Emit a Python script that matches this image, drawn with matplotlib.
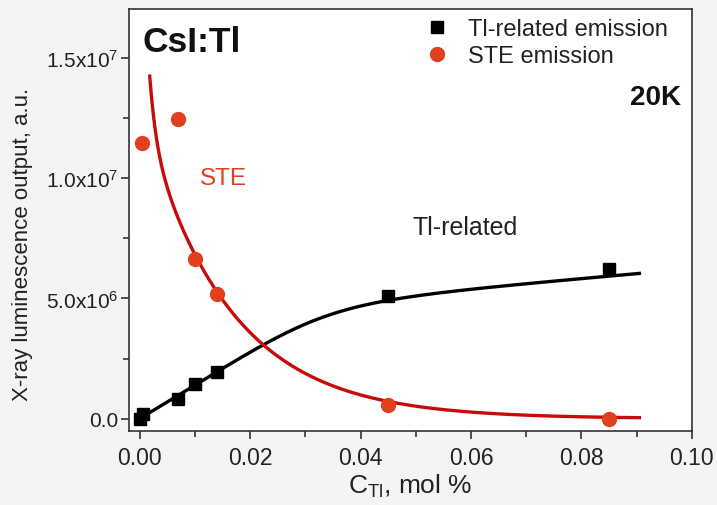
# CsI:Tl X-ray luminescence vs Tl concentration at 20K
import numpy as np
import matplotlib.pyplot as plt
from matplotlib.ticker import MultipleLocator, FixedLocator, FixedFormatter

plt.rcParams['font.family'] = ['Liberation Sans', 'DejaVu Sans']
plt.rcParams['mathtext.fontset'] = 'custom'
plt.rcParams['mathtext.rm'] = 'Liberation Sans'
plt.rcParams['mathtext.it'] = 'Liberation Sans:italic'
plt.rcParams['mathtext.bf'] = 'Liberation Sans:bold'

# measured points (C_Tl in mol %, output in a.u.)
tl_x = [0.0, 0.0005, 0.007, 0.010, 0.014, 0.045, 0.085]
tl_y = [0.0, 0.18e6, 0.82e6, 1.46e6, 1.92e6, 5.10e6, 6.22e6]
ste_x = [0.0004, 0.007, 0.010, 0.014, 0.045, 0.085]
ste_y = [11.45e6, 12.47e6, 6.63e6, 5.17e6, 0.55e6, 0.0]

# fit parameters
tl_fit = dict(A=4.24e6, x0=0.0355, n=5, k=2.0e7)
ste_fit = dict(a=12.0e6, t1=0.0012, b=13.0e6, t2=0.0155)

yticks = [0, 5e6, 1e7, 1.5e7]
ytick_labels = ['0.0', '5.0x10$^6$', '1.0x10$^7$', '1.5x10$^7$']

red_pts = '#e0401e'
red_line = '#c80a0a'
txt = '#222222'

def tl_model(x, A, x0, n, k):
    return A * x / (x0**n + x**n)**(1.0 / n) + k * x

def ste_model(x, a, t1, b, t2):
    return a * np.exp(-x / t1) + b * np.exp(-x / t2)

fig = plt.figure(figsize=(7.17, 5.06), dpi=100, facecolor='#f3f4f4')
ax = fig.add_axes([0.180, 0.147, 0.785, 0.833])
ax.set_facecolor('white')

xf = np.linspace(0.0, 0.0905, 300)
ax.plot(xf, tl_model(xf, **tl_fit), color='black', lw=2.4, zorder=2)
xs = np.linspace(0.0018, 0.0905, 300)
ax.plot(xs, ste_model(xs, **ste_fit), color=red_line, lw=2.4, zorder=2)

ax.plot(tl_x, tl_y, 's', color='black', ms=9, ls='none', zorder=3,
        label='Tl-related emission')
ax.plot(ste_x, ste_y, 'o', color=red_pts, ms=10, ls='none', zorder=3,
        label='STE emission')

ax.set_xlim(-0.00194, 0.1)
ax.set_ylim(-0.5e6, 1.704e7)
ax.xaxis.set_major_locator(MultipleLocator(0.02))
ax.xaxis.set_minor_locator(MultipleLocator(0.01))
ax.xaxis.set_major_formatter(plt.FormatStrFormatter('%.2f'))
ax.yaxis.set_major_locator(FixedLocator(yticks))
ax.yaxis.set_major_formatter(FixedFormatter(ytick_labels))
ax.yaxis.set_minor_locator(MultipleLocator(2.5e6))

for s in ax.spines.values():
    s.set_color('#333333')
    s.set_linewidth(1.2)
ax.tick_params(which='both', direction='out', top=False, right=False,
               color='#333333', width=1.2, labelcolor=txt)
ax.tick_params(which='major', length=6, labelsize=15, pad=2)
ax.tick_params(which='minor', length=4)
ax.tick_params(axis='x', labelsize=16.5, pad=5)

ax.set_xlabel('C$_\\mathrm{Tl}$, mol %', fontsize=19, labelpad=2, color=txt)
ax.set_ylabel('X-ray luminescence output, a.u.', fontsize=16, color=txt,
              va='center')
ax.yaxis.set_label_coords(-0.19, 0.445)

ax.text(0.024, 0.922, 'CsI:Tl', transform=ax.transAxes, fontsize=25.5,
        fontweight='bold', va='center', ha='left', color='#111111')
ax.text(0.981, 0.791, '20K', transform=ax.transAxes, fontsize=20,
        fontweight='bold', va='center', ha='right', color='#111111')
ax.text(0.0151, 10.0e6, 'STE', color=red_pts, fontsize=17.5,
        ha='center', va='center')
ax.text(0.0589, 7.98e6, 'Tl-related', color=txt, fontsize=18,
        ha='center', va='center')

leg = ax.legend(loc='upper left', bbox_to_anchor=(0.526, 0.978),
                frameon=False, fontsize=17, borderpad=0, borderaxespad=0,
                handlelength=1.0, handletextpad=0.8, labelspacing=0.2)
for t in leg.get_texts():
    t.set_color(txt)

fig.savefig('out.png', dpi=100, facecolor=fig.get_facecolor())
